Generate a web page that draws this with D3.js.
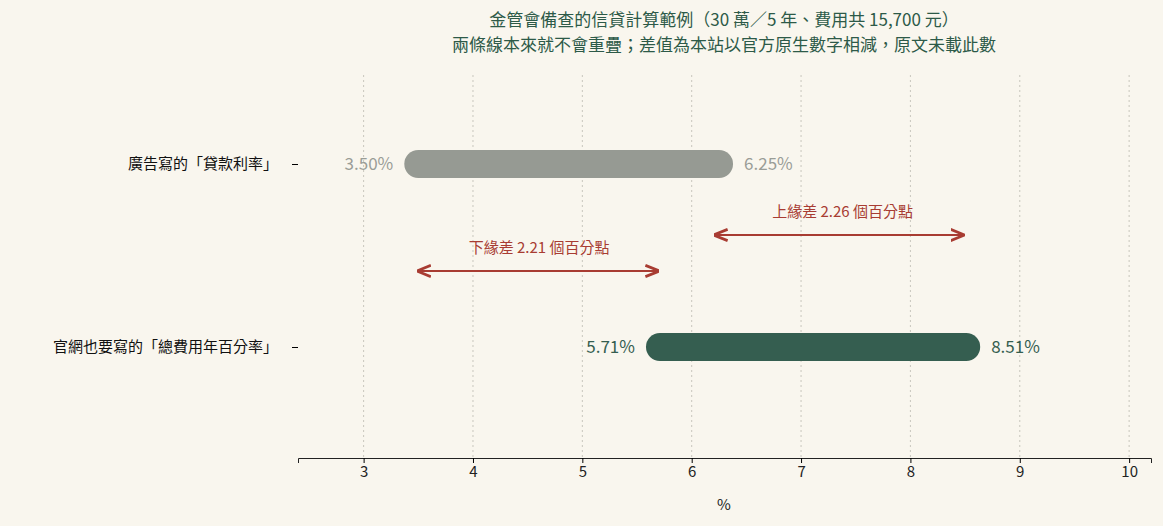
<!DOCTYPE html><html><head><meta charset="utf-8">
<script src="https://cdn.jsdelivr.net/npm/d3@7"></script>
<style>body{margin:0;background:#f9f6ee;font-family:"Noto Sans CJK TC","Noto Sans",sans-serif}</style></head><body>
<svg id="c" width="1163" height="526"></svg>
<script>
const categories=["廣告寫的「貸款利率」","官網也要寫的「總費用年百分率」"];
const lows=[3.50,5.71];
const highs=[6.25,8.51];
const barColors=["#969a93","#355e50"];
const labelColors=["#9a9d97","#355e50"];
const xTicks=[3,4,5,6,7,8,9,10];
const diffs=[{from:6.25,to:8.51,label:"上緣差 2.26 個百分點"},{from:3.50,to:5.71,label:"下緣差 2.21 個百分點"}];
const titleLines=["金管會備查的信貸計算範例（30 萬／5 年、費用共 15,700 元）","兩條線本來就不會重疊；差值為本站以官方原生數字相減，原文未載此數"];

const svg=d3.select("#c");
svg.append("rect").attr("width",1163).attr("height",526).attr("fill","#f9f6ee");
const x=d3.scaleLinear().domain([2.4,10.2]).range([298,1151]);
const y=d3.scalePoint().domain(categories).range([164,347]);
const red="#a83c32";
svg.append("defs").html(`<marker id="ah" viewBox="0 0 10 10" refX="9" refY="5" markerWidth="7" markerHeight="7" orient="auto-start-reverse"><path d="M0,1 L10,5 L0,9" fill="none" stroke="${red}" stroke-width="2"/></marker>`);
svg.selectAll(".g").data(xTicks).join("line").attr("x1",d=>x(d)).attr("x2",d=>x(d)).attr("y1",75).attr("y2",458).attr("stroke","#c8c6bd").attr("stroke-dasharray","2,3");
const ax=svg.append("g").attr("transform","translate(0,458)").call(d3.axisBottom(x).tickValues(xTicks).tickSize(5).tickFormat(d3.format("d")));
ax.select(".domain").attr("stroke","#222");
ax.selectAll("text").attr("font-size",15).attr("fill","#222").attr("font-family","Noto Sans CJK TC");
svg.append("text").attr("x",724).attr("y",510).attr("text-anchor","middle").attr("font-size",15).attr("fill","#222").text("%");
const ay=svg.append("g").attr("transform","translate(298,0)").call(d3.axisLeft(y).tickSize(6).tickPadding(14));
ay.select(".domain").remove();
ay.selectAll("text").attr("font-size",15).attr("fill","#111").attr("font-family","Noto Sans CJK TC");
categories.forEach((c,i)=>{
 svg.append("line").attr("x1",x(lows[i])).attr("x2",x(highs[i])).attr("y1",y(c)).attr("y2",y(c)).attr("stroke",barColors[i]).attr("stroke-width",28).attr("stroke-linecap","round");
 svg.append("text").attr("x",x(lows[i])-25).attr("y",y(c)+6).attr("text-anchor","end").attr("font-size",17).attr("fill",labelColors[i]).text(lows[i].toFixed(2)+"%");
 svg.append("text").attr("x",x(highs[i])+25).attr("y",y(c)+6).attr("font-size",17).attr("fill",labelColors[i]).text(highs[i].toFixed(2)+"%");
});
const ay2=[235,271];
diffs.forEach((d,i)=>{
 svg.append("line").attr("x1",x(d.from)+ (i==0?-4:0)).attr("x2",x(d.to)+(i==0?-3:-2)).attr("y1",ay2[i]).attr("y2",ay2[i]).attr("stroke",red).attr("stroke-width",2).attr("marker-start","url(#ah)").attr("marker-end","url(#ah)");
 svg.append("text").attr("x",(x(d.from)+x(d.to))/2).attr("y",ay2[i]-18).attr("text-anchor","middle").attr("font-size",15).attr("fill",red).text(d.label);
});
titleLines.forEach((t,i)=>svg.append("text").attr("x",724).attr("y",26+i*25).attr("text-anchor","middle").attr("font-size",17).attr("fill","#2d5a48").text(t));
</script></body></html>
